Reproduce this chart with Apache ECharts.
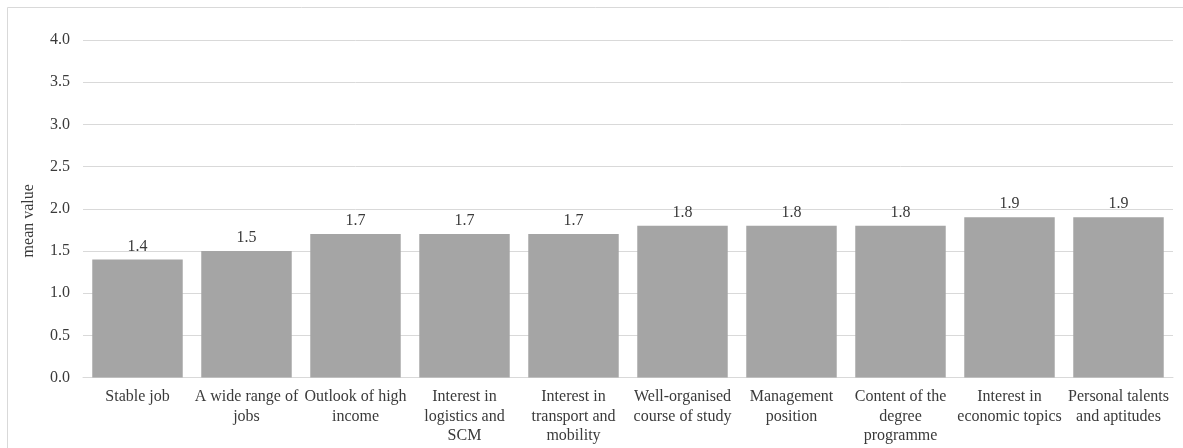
<!DOCTYPE html>
<html>
<head>
<meta charset="utf-8">
<script src="https://cdn.jsdelivr.net/npm/echarts@6/dist/echarts.min.js"></script>
<style>
  html, body { margin: 0; padding: 0; background: #fff; }
  #chart { width: 1183px; height: 448px; }
</style>
</head>
<body>
<div id="chart"></div>
<script>
// Reasons for choosing the degree programme, mean ratings
const categories = [
  'Stable job',
  'A wide range of\njobs',
  'Outlook of high\nincome',
  'Interest in\nlogistics and\nSCM',
  'Interest in\ntransport and\nmobility',
  'Well-organised\ncourse of study',
  'Management\nposition',
  'Content of the\ndegree\nprogramme',
  'Interest in\neconomic topics',
  'Personal talents\nand aptitudes'
];
const meanValues = [1.4, 1.5, 1.7, 1.7, 1.7, 1.8, 1.8, 1.8, 1.9, 1.9];
const yTicks = { min: 0, max: 4, interval: 0.5 };

const FONT = '"Liberation Serif", "Times New Roman", serif';
const TEXT = '#3a3a3a';

const chart = echarts.init(document.getElementById('chart'), null, { renderer: 'canvas' });
chart.setOption({
  animation: false,
  backgroundColor: '#fff',
  graphic: [{
    type: 'rect',
    shape: { x: 7.5, y: 7.5, width: 1300, height: 600 },
    style: { fill: 'none', stroke: '#d9d9d9', lineWidth: 1 },
    silent: true
  }],
  grid: { left: 83, right: 10, top: 40, bottom: 70.5, containLabel: false },
  xAxis: {
    type: 'category',
    data: categories,
    axisTick: { show: false },
    axisLine: { lineStyle: { color: '#d9d9d9', width: 1 } },
    axisLabel: {
      interval: 0,
      margin: 10,
      color: TEXT,
      fontFamily: FONT,
      fontSize: 16,
      lineHeight: 19.5
    }
  },
  yAxis: {
    type: 'value',
    min: yTicks.min,
    max: yTicks.max,
    interval: yTicks.interval,
    name: 'mean value',
    nameLocation: 'middle',
    nameGap: 46,
    nameTextStyle: { color: TEXT, fontFamily: FONT, fontSize: 16, padding: [0, 24, 0, 0] },
    axisLine: { show: false },
    axisTick: { show: false },
    splitLine: { lineStyle: { color: '#d9d9d9', width: 1 } },
    axisLabel: {
      margin: 13,
      color: TEXT,
      fontFamily: FONT,
      fontSize: 16,
      formatter: v => v.toFixed(1)
    }
  },
  series: [{
    type: 'bar',
    data: meanValues,
    barCategoryGap: '17%',
    itemStyle: { color: '#a5a5a5' },
    label: {
      show: true,
      position: 'top',
      distance: 5,
      color: TEXT,
      fontFamily: FONT,
      fontSize: 16,
      formatter: p => p.value.toFixed(1)
    }
  }]
});
</script>
</body>
</html>
